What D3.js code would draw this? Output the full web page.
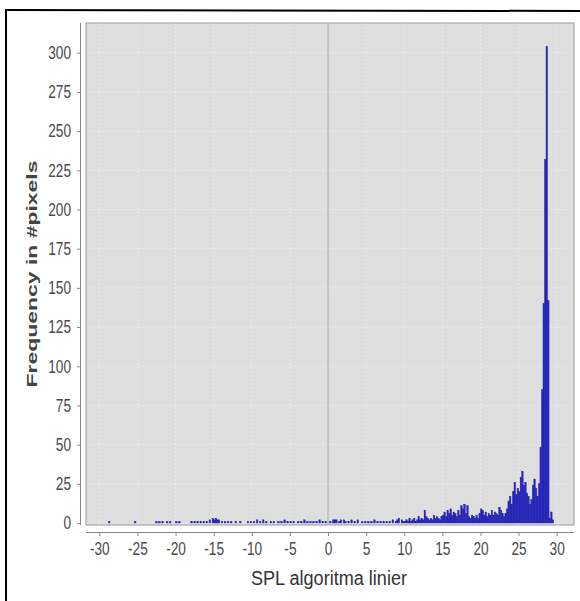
<!DOCTYPE html>
<html>
<head>
<meta charset="utf-8">
<script src="https://cdn.jsdelivr.net/npm/d3@7"></script>
<style>
  body { margin: 0; background: #fff; }
  .tick text { font-family: "Liberation Sans", Arial, sans-serif; }
</style>
</head>
<body>
<div id="chart"></div>
<script>
// histogram bins (start of each bin, width binWidth) and their counts
const binWidth = 0.2;

// sparse low region, below 10
const lowStarts = [-28.8, -25.4, -22.6, -22.2, -21.8, -21.2, -20.8, -20.0, -19.6, -18.0, -17.6, -17.2, -16.8, -16.4, -16.0,
    -15.6, -15.2, -15.0, -14.8, -14.6, -14.4, -14.0, -13.6, -13.2, -12.8, -12.2, -11.6, -10.6, -10.2, -9.8, -9.4, -9.0,
    -8.6, -8.2, -7.6, -7.2, -6.6, -6.2, -5.8, -5.4, -5.0, -4.6, -4.0, -3.6, -3.2, -2.8, -2.4, -2.0, -1.6, -1.2, -0.8, -0.4,
    0.2, 0.6, 0.8, 1.0, 1.4, 1.6, 2.0, 2.2, 2.6, 3.0, 3.4, 3.8, 4.4, 4.8, 5.2, 5.6, 6.0, 6.4, 6.8, 7.2, 7.6, 8.0, 8.4,
    8.8, 9.0, 9.2, 9.6, 9.8];
const lowCounts = [1, 1, 1, 1, 1, 1, 1, 1, 1, 1, 1, 1, 1, 1, 1,
    2, 3, 2, 3, 2, 2, 1, 1, 1, 1, 1, 1, 1, 1, 1, 2, 1,
    2, 1, 1, 1, 1, 1, 2, 1, 1, 1, 1, 1, 2, 1, 1, 1, 1, 2, 1, 1,
    1, 2, 2, 2, 1, 2, 2, 1, 1, 2, 1, 2, 1, 1, 1, 1, 2, 1, 1, 1, 1, 1, 2,
    1, 2, 3, 2, 1];

// dense high region, bins from 10.0 upward
const highStart = 10.0;
const highCounts = [
    1, 2, 1, 3, 1, 2, 3, 1, 2, 4,        // 10 - 12
    2, 3, 2, 8, 4, 3, 2, 3, 2, 5,        // 12 - 14
    3, 4, 3, 2, 4, 5, 7, 4, 8, 6,        // 14 - 16
    9, 5, 7, 6, 4, 8, 5, 11, 9, 12,      // 16 - 18
    6, 11, 4, 3, 5, 4, 3, 5, 3, 6,       // 18 - 20
    9, 8, 5, 7, 4, 6, 5, 8, 5, 7,        // 20 - 22
    6, 5, 10, 8, 6, 4, 6, 9, 14, 17,     // 22 - 24
    12, 20, 26, 18, 22, 20, 29, 33, 24, 26, // 24 - 26
    19, 17, 12, 15, 24, 28, 22, 17, 25, 48, // 26 - 28
    85, 140, 232, 304, 142, 3, 7, 2      // 28 - 29.6
];

const yTicks = d3.range(0, 301, 25);
const xTicks = d3.range(-30, 31, 5);

let bins = lowStarts.map((s, i) => ({x0: s, n: lowCounts[i]}));
highCounts.forEach((n, i) => bins.push({x0: +(highStart + i * binWidth).toFixed(1), n: n}));

const W = 580, H = 601;
const plot = {left: 86, right: 574, top: 23, bottom: 525};
const squeeze = 0.76;   // labels in the picture are narrow

const svg = d3.select("#chart").append("svg")
    .attr("width", W)
    .attr("height", H);

// outer frame (top and left edges only visible)
svg.append("line").attr("x1", 6).attr("y1", 10).attr("x2", W).attr("y2", 11)
    .attr("stroke", "#000").attr("stroke-width", 2);
svg.append("line").attr("x1", 6).attr("y1", 9).attr("x2", 6).attr("y2", H)
    .attr("stroke", "#000").attr("stroke-width", 2);

const x = d3.scaleLinear().domain([-31.75, 32.27]).range([plot.left, plot.right]);
const y = d3.scaleLinear().domain([-1.3, 319]).range([plot.bottom, plot.top]);

// plot background
svg.append("rect")
    .attr("x", plot.left).attr("y", plot.top)
    .attr("width", plot.right - plot.left).attr("height", plot.bottom - plot.top)
    .attr("fill", "#dedede");

// gridlines
svg.append("g").selectAll("line").data(xTicks).join("line")
    .attr("x1", d => x(d)).attr("x2", d => x(d))
    .attr("y1", plot.top).attr("y2", plot.bottom)
    .attr("stroke", "#ebebeb").attr("stroke-width", 1).attr("stroke-dasharray", "2,2");
svg.append("g").selectAll("line").data(yTicks).join("line")
    .attr("x1", plot.left).attr("x2", plot.right)
    .attr("y1", d => y(d)).attr("y2", d => y(d))
    .attr("stroke", "#ebebeb").attr("stroke-width", 1).attr("stroke-dasharray", "2,2");

// zero marker
svg.append("line")
    .attr("x1", x(0)).attr("x2", x(0))
    .attr("y1", plot.top).attr("y2", plot.bottom)
    .attr("stroke", "#a8a8a8").attr("stroke-width", 1);

// bars
svg.append("g").selectAll("rect").data(bins).join("rect")
    .attr("x", d => x(d.x0))
    .attr("width", d => x(d.x0 + binWidth) - x(d.x0))
    .attr("y", d => y(d.n))
    .attr("height", d => y(0) - y(d.n))
    .attr("fill", "#2626cc")
    .attr("stroke", "#1e1e96")
    .attr("stroke-width", 0.4);

// plot outline
svg.append("rect")
    .attr("x", plot.left).attr("y", plot.top)
    .attr("width", plot.right - plot.left).attr("height", plot.bottom - plot.top)
    .attr("fill", "none").attr("stroke", "#9a9a9a");

// y axis, offset from plot
const yAxis = svg.append("g")
    .attr("transform", "translate(80,0)")
    .call(d3.axisLeft(y).tickValues(yTicks).tickFormat(d => String(d)).tickSize(3).tickPadding(6));
yAxis.select(".domain").attr("d", `M0.5,${plot.top}V${plot.bottom}`).attr("stroke", "#888");
yAxis.selectAll(".tick line").attr("stroke", "#888");
yAxis.selectAll(".tick text")
    .attr("font-size", 18).attr("fill", "#4a4a4a")
    .attr("x", -9 / squeeze)
    .attr("transform", `scale(${squeeze},1)`);

// x axis, offset from plot
const xAxis = svg.append("g")
    .attr("transform", "translate(0,532)")
    .call(d3.axisBottom(x).tickValues(xTicks).tickFormat(d => String(d)).tickSize(4).tickPadding(6));
xAxis.select(".domain").attr("d", `M${plot.left},0.5H${plot.right}`).attr("stroke", "#888");
xAxis.selectAll(".tick line").attr("stroke", "#888");
xAxis.selectAll(".tick text")
    .attr("font-size", 18).attr("fill", "#4a4a4a")
    .attr("transform", `scale(${squeeze},1)`);

// axis titles
svg.append("text")
    .attr("x", (plot.left + plot.right) / 2 - 1)
    .attr("y", 585)
    .attr("text-anchor", "middle")
    .attr("font-family", "'Liberation Sans', Arial, sans-serif")
    .attr("font-size", 20)
    .attr("textLength", 156)
    .attr("lengthAdjust", "spacingAndGlyphs")
    .attr("fill", "#333")
    .text("SPL algoritma linier");

svg.append("text")
    .attr("transform", `translate(37,${(plot.top + plot.bottom) / 2}) rotate(-90)`)
    .attr("text-anchor", "middle")
    .attr("font-family", "'Liberation Sans', Arial, sans-serif")
    .attr("font-weight", "bold")
    .attr("font-size", 15)
    .attr("textLength", 227)
    .attr("lengthAdjust", "spacingAndGlyphs")
    .attr("fill", "#444")
    .text("Frequency in #pixels");
</script>
</body>
</html>
